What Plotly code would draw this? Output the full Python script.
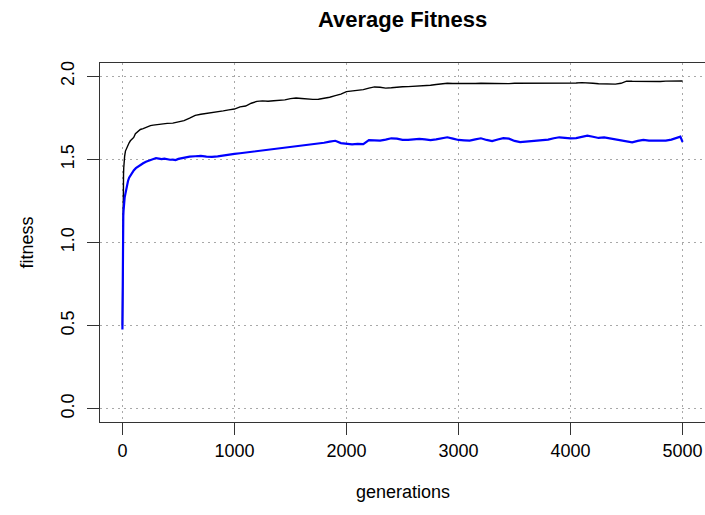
import plotly.graph_objects as go

# ---- data ----
gen_black = [0, 2, 4, 6, 8, 10, 12, 15, 20, 27, 35, 42, 50, 60, 71, 85, 101, 116, 135, 160,
             185, 205, 230, 250, 275, 300, 350, 400, 450, 500, 550, 600, 650, 700, 750, 800,
             850, 900, 950, 1000, 1050, 1100, 1150, 1200, 1250, 1300, 1350, 1400, 1450, 1500,
             1550, 1600, 1650, 1700, 1750, 1800, 1850, 1900, 1950, 2000, 2050, 2100, 2150,
             2200, 2250, 2300, 2350, 2400, 2450, 2500, 2550, 2600, 2650, 2700, 2750, 2800,
             2850, 2900, 2950, 3000, 3050, 3100, 3150, 3200, 3250, 3300, 3350, 3400, 3450,
             3500, 3550, 3600, 3650, 3700, 3750, 3800, 3850, 3900, 3950, 4000, 4050, 4100,
             4150, 4200, 4250, 4300, 4350, 4400, 4450, 4500, 4550, 4600, 4650, 4700, 4750,
             4800, 4850, 4900, 4950, 5000]
fit_black = [0.50, 0.95, 1.15, 1.27, 1.35, 1.41, 1.45, 1.49, 1.52, 1.55, 1.565, 1.575, 1.59,
             1.60, 1.612, 1.62, 1.632, 1.655, 1.665, 1.68, 1.685, 1.692, 1.698, 1.703, 1.706,
             1.709, 1.712, 1.717, 1.718, 1.726, 1.733, 1.748, 1.765, 1.772, 1.776, 1.781,
             1.785, 1.792, 1.798, 1.803, 1.816, 1.821, 1.838, 1.849, 1.852, 1.850, 1.853,
             1.855, 1.858, 1.866, 1.869, 1.866, 1.863, 1.861, 1.862, 1.866, 1.874, 1.884,
             1.893, 1.908, 1.911, 1.913, 1.920, 1.929, 1.936, 1.934, 1.929, 1.931, 1.935,
             1.937, 1.938, 1.940, 1.940, 1.942, 1.946, 1.951, 1.955, 1.958, 1.957, 1.956,
             1.957, 1.955, 1.957, 1.958, 1.957, 1.959, 1.958, 1.958, 1.956, 1.958, 1.958,
             1.957, 1.959, 1.958, 1.958, 1.957, 1.958, 1.959, 1.958, 1.958, 1.960, 1.962,
             1.962, 1.958, 1.955, 1.953, 1.952, 1.953, 1.958, 1.971, 1.970, 1.969, 1.968,
             1.969, 1.970, 1.969, 1.971, 1.971, 1.972, 1.972]

gen_blue = [0, 1, 2, 3, 4, 6, 8, 10, 12, 15, 20, 27, 35, 42, 50, 60, 71, 85, 101, 120, 140,
            160, 185, 210, 230, 250, 275, 300, 325, 350, 375, 400, 425, 450, 475, 500, 550,
            600, 650, 700, 750, 800, 850, 900, 950, 1000, 1050, 1100, 1150, 1200, 1250, 1300,
            1350, 1400, 1450, 1500, 1550, 1600, 1650, 1700, 1750, 1800, 1850, 1900, 1950,
            2000, 2050, 2100, 2150, 2200, 2250, 2300, 2350, 2400, 2450, 2500, 2550, 2600,
            2650, 2700, 2750, 2800, 2850, 2900, 2950, 3000, 3050, 3100, 3150, 3200, 3250,
            3300, 3350, 3400, 3450, 3500, 3550, 3600, 3650, 3700, 3750, 3800, 3850, 3900,
            3950, 4000, 4050, 4100, 4150, 4200, 4250, 4300, 4350, 4400, 4450, 4500, 4550,
            4600, 4650, 4700, 4750, 4800, 4850, 4900, 4950, 4980, 5000]
fit_blue = [0.477, 0.70, 0.85, 0.95, 1.03, 1.10, 1.16, 1.19, 1.21, 1.24, 1.27, 1.294, 1.325,
            1.354, 1.37, 1.39, 1.404, 1.42, 1.434, 1.447, 1.458, 1.466, 1.477, 1.486, 1.490,
            1.494, 1.501, 1.508, 1.505, 1.502, 1.504, 1.500, 1.498, 1.499, 1.496, 1.503,
            1.512, 1.517, 1.519, 1.521, 1.517, 1.515, 1.518, 1.524, 1.529, 1.533, 1.537,
            1.541, 1.544, 1.548, 1.552, 1.556, 1.560, 1.566, 1.571, 1.575, 1.580, 1.584,
            1.588, 1.591, 1.594, 1.600, 1.607, 1.612, 1.598, 1.592, 1.590, 1.593, 1.592,
            1.616, 1.614, 1.613, 1.619, 1.627, 1.625, 1.618, 1.617, 1.621, 1.623, 1.620,
            1.616, 1.621, 1.628, 1.633, 1.625, 1.617, 1.615, 1.613, 1.620, 1.627, 1.617,
            1.610, 1.620, 1.628, 1.625, 1.611, 1.604, 1.607, 1.612, 1.615, 1.617, 1.619,
            1.627, 1.633, 1.630, 1.626, 1.628, 1.637, 1.643, 1.636, 1.629, 1.632, 1.627,
            1.622, 1.617, 1.608, 1.603, 1.611, 1.617, 1.613, 1.614, 1.612, 1.613, 1.619,
            1.631, 1.637, 1.605]

x_ticks = [0, 1000, 2000, 3000, 4000, 5000]
x_tick_labels = ["0", "1000", "2000", "3000", "4000", "5000"]
y_ticks = [0.0, 0.5, 1.0, 1.5, 2.0]
y_tick_labels = ["0.0", "0.5", "1.0", "1.5", "2.0"]

title_text = "Average Fitness"
x_title = "generations"
y_title = "fitness"

# ---- figure ----
FONT = "Liberation Sans, Arial, Helvetica, sans-serif"
W, H = 705, 515
L, R, T, B = 100, 0, 63, 93
plot_h = H - T - B
plot_w = W - L - R

fig = go.Figure()
fig.add_trace(go.Scatter(x=gen_black, y=fit_black, mode="lines",
                         line=dict(color="black", width=1.4), showlegend=False))
fig.add_trace(go.Scatter(x=gen_blue, y=fit_blue, mode="lines",
                         line=dict(color="#0000FF", width=2.2), showlegend=False))

axis_common = dict(
    showline=True, mirror=True, linecolor="#333333", linewidth=1,
    ticks="outside", ticklen=12, tickcolor="#333333", tickwidth=1,
    showgrid=True, gridcolor="#A8A8A8", griddash="2px,4px", gridwidth=1.3,
    zeroline=False, tickfont=dict(family=FONT, size=18, color="black"),
)

fig.update_layout(
    width=W, height=H,
    margin=dict(l=L, r=R, t=T, b=B, pad=0),
    paper_bgcolor="white", plot_bgcolor="white",
    xaxis=dict(range=[-200, 5200], tickmode="array", tickvals=x_ticks,
               ticktext=x_tick_labels, **axis_common),
    yaxis=dict(range=[-0.08, 2.08], tickmode="array", tickvals=y_ticks,
               ticktext=y_tick_labels, tickangle=-90, ticklabelstandoff=6,
               **axis_common),
    annotations=[
        dict(text="<b>" + title_text + "</b>", xref="paper", yref="paper",
             x=0.5, y=(H - B - 19) / plot_h, xanchor="center", yanchor="middle",
             showarrow=False, font=dict(family=FONT, size=22, color="black")),
        dict(text=x_title, xref="paper", yref="paper",
             x=0.5, y=(H - B - 492) / plot_h, xanchor="center", yanchor="middle",
             showarrow=False, font=dict(family=FONT, size=18, color="black")),
        dict(text=y_title, xref="paper", yref="paper",
             x=(26 - L) / plot_w, y=0.5, xanchor="center", yanchor="middle",
             textangle=-90, showarrow=False,
             font=dict(family=FONT, size=18, color="black")),
    ],
)

fig.write_html("out.html")
